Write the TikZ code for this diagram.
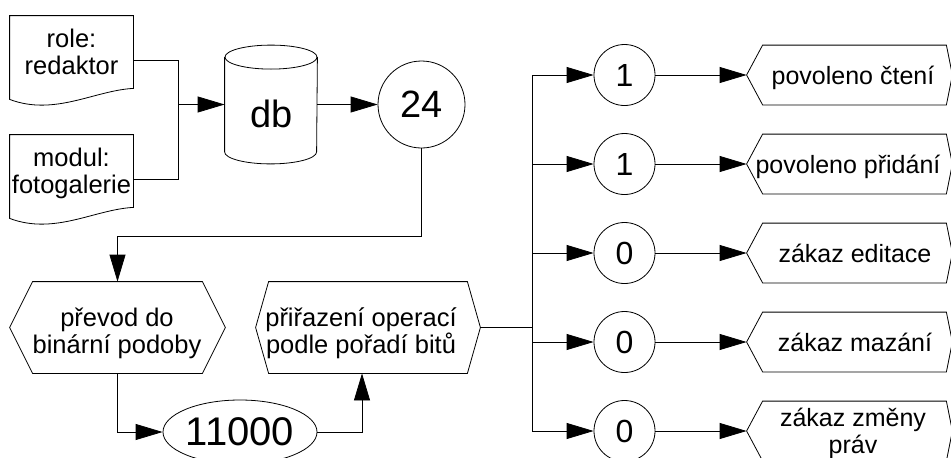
\documentclass[tikz,border=0pt]{standalone}
\usepackage{fontspec}
\setmainfont{Liberation Sans}
\usetikzlibrary{arrows.meta,shapes.geometric,calc}

% document outline (wavy bottom) around a sized node
\newcommand\drawdoc[1]{%
  \draw (#1.north west) -- (#1.north east) -- ([yshift=16pt]#1.south east)
    .. controls ([shift={(85pt,14pt)}]#1.south west) and ([shift={(45pt,-12pt)}]#1.south west)
    .. ([yshift=5pt]#1.south west) -- cycle;}
% hexagon outline: #2 = left inset, #3 = right inset
\newcommand\drawhex[3]{%
  \draw (#1.west) -- ([xshift=#2]#1.north west) -- ([xshift=-#3]#1.north east) -- (#1.east)
    -- ([xshift=-#3]#1.south east) -- ([xshift=#2]#1.south west) -- cycle;}

\begin{document}
\begin{tikzpicture}[x=1pt,y=1pt,line width=0.8pt,
  flow/.style={-{Triangle[length=27pt,width=16pt]}},
  area/.style={rectangle,draw=none,inner sep=0pt},
  lbl/.style={font=\fontsize{25.5}{27}\selectfont,align=center,inner sep=0pt},
  oneline/.style={font=\fontsize{25}{27}\selectfont,text height=23pt,text depth=4.5pt,inner sep=0pt},
  bit/.style={circle,draw,minimum size=61pt,inner sep=0pt,
    font=\fontsize{32}{34}\selectfont,text height=28.8pt,text depth=6.7pt},
  big/.style={font=\fontsize{38}{40}\selectfont,inner sep=0pt},
  res/.style={area,minimum width=205pt,minimum height=59pt}
]
\useasboundingbox (0,0) rectangle (951,-458);
\clip (0,0) rectangle (951,-458);

% input documents
\node[area,minimum width=123pt,minimum height=88pt] (role) at (71.5,-60) {};
\drawdoc{role}
\node[lbl] (roleT) at (71.5,-51.5) {role:\\redaktor};
\node[area,minimum width=123pt,minimum height=88pt] (modul) at (71.5,-179) {};
\drawdoc{modul}
\node[lbl] (modulT) at (71.5,-173.7) {modul:\\fotogalerie};

% database
\node[area,minimum width=92pt,minimum height=118pt] (db) at (271,-104.5) {};
\draw ([yshift=-12pt]db.north) ellipse [x radius=46pt,y radius=12pt];
\draw ([yshift=-12pt]db.north west) -- ([yshift=12pt]db.south west)
  arc[start angle=180,end angle=360,x radius=46pt,y radius=12pt] -- ([yshift=-12pt]db.north east);
\node[big,anchor=base] (dbT) at (272,-127) {db};

% stored value
\node[circle,draw,minimum size=87pt,big,text height=34pt,text depth=8pt] (c24) at (421.5,-104.5) {24};

% processing steps
\node[area,minimum width=215pt,minimum height=91pt] (hexA) at (117.5,-327.5) {};
\drawhex{hexA}{23}{23}
\node[lbl] (hexAT) at (117,-333.4) {převod do\\binární podoby};
\node[area,minimum width=224pt,minimum height=91pt] (hexB) at (368,-327.5) {};
\drawhex{hexB}{13}{13}
\node[lbl] (hexBT) at (361,-333.4) {přiřazení operací\\podle pořadí bitů};

% binary value
\node[ellipse,draw,minimum width=154pt,minimum height=64pt,inner sep=0pt,
  font=\fontsize{40}{42}\selectfont,text height=36pt,text depth=8.4pt] (bin) at (240,-432) {11000};

% bits and resulting permissions
\node[bit] (b1) at (624.5,-75) {1};
\node[bit] (b2) at (624.5,-164) {1};
\node[bit] (b3) at (624.5,-253) {0};
\node[bit] (b4) at (624.5,-342) {0};
\node[bit] (b5) at (624.5,-431) {0};

\node[res] (r1) at (849.5,-75) {};
\node[res] (r2) at (849.5,-164) {};
\node[res] (r3) at (849.5,-253) {};
\node[res] (r4) at (849.5,-342) {};
\node[res] (r5) at (849.5,-431) {};
\foreach \r in {r1,r2,r3,r4,r5} {\drawhex{\r}{16}{6}}
\node[oneline] (r1T) at (853,-75) {povoleno čtení};
\node[oneline] (r2T) at (848,-164) {povoleno přidání};
\node[oneline] (r3T) at (855,-253) {zákaz editace};
\node[oneline] (r4T) at (855,-342) {zákaz mazání};
\node[lbl,font=\fontsize{25}{27}\selectfont] (r5T) at (853,-433) {zákaz změny\\práv};

% connectors
\coordinate (join) at ($(db.west)+(-46,0)$);
\draw (role.east) -| (join);
\draw (modul.east) -| (join);
\draw[flow] (join) -- (db.west);
\draw[flow] (db.east) -- (c24.west);
\coordinate (bend) at ($(hexA.north)+(0,45)$);
\draw[flow] (c24.south) |- (bend) -- (hexA.north);
\draw[flow] (hexA.south) |- (bin.west);
\coordinate (up) at ($(hexB.south)+(-6,0)$);
\draw[flow] (bin.east) -| (up);
\coordinate (fork) at ($(hexB.east)+(52,0)$);
\draw (hexB.east) -- (fork);
\draw (fork |- b1.west) -- (fork |- b5.west);
\foreach \i in {1,...,5} {
  \draw[flow] (fork |- b\i.west) -- (b\i.west);
  \draw[flow] (b\i.east) -- (r\i.west);
}
\end{tikzpicture}
\end{document}
